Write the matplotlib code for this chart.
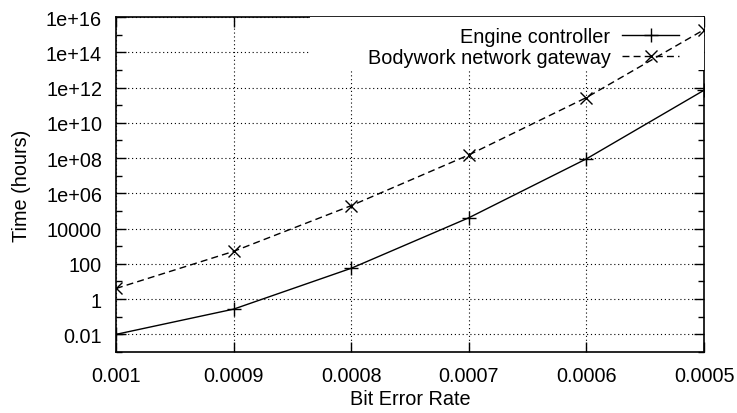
# Bit error rate vs time, gnuplot-like look
import matplotlib
matplotlib.use('Agg')
import matplotlib.pyplot as plt
from matplotlib.patches import Rectangle
from matplotlib.ticker import FixedLocator, FuncFormatter

plt.rcParams['font.family'] = ['Liberation Sans', 'DejaVu Sans']
plt.rcParams['font.size'] = 14.3

ber = [0.001, 0.0009, 0.0008, 0.0007, 0.0006, 0.0005]
engine_hours = [0.01, 0.27, 56, 4.1e4, 9e7, 7e11]
gateway_hours = [4, 510, 2e5, 1.5e8, 2.7e11, 1.9e15]

x_ticks = [0.001, 0.0009, 0.0008, 0.0007, 0.0006, 0.0005]
y_major = [10.0 ** e for e in range(-2, 17, 2)]
y_minor = [10.0 ** e for e in range(-3, 17, 2)]

W, H = 737, 414
L, R, T, B = 116, 704, 18, 353

fig = plt.figure(figsize=(W / 100, H / 100), dpi=100)
ax = fig.add_axes([L / W, 1 - B / H, (R - L) / W, (B - T) / H])

ax.plot(ber, engine_hours, color='black', lw=1.0, marker='+', ms=10, mew=1.0,
        label='Engine controller', zorder=6)
ax.plot(ber, gateway_hours, color='black', lw=1.0, ls=(0, (5, 3)), marker='x', ms=9, mew=1.0,
        label='Bodywork network gateway', zorder=6)

ax.set_yscale('log')
ax.set_xlim(0.001, 0.0005)
ax.set_ylim(1e-3, 1e16)

ax.xaxis.set_major_locator(FixedLocator(x_ticks))
ax.xaxis.set_major_formatter(FuncFormatter(lambda v, p: '%g' % v))
ax.yaxis.set_major_locator(FixedLocator(y_major))
ax.yaxis.set_minor_locator(FixedLocator(y_minor))
ax.yaxis.set_major_formatter(FuncFormatter(lambda v, p: '%g' % v))
ax.yaxis.set_minor_formatter(FuncFormatter(lambda v, p: ''))

ax.tick_params(which='both', direction='in', top=True, right=True, width=1.0)
ax.tick_params(axis='x', pad=10)
ax.tick_params(axis='y', pad=10)
ax.tick_params(which='major', length=7)
ax.tick_params(which='minor', length=4)
for s in ax.spines.values():
    s.set_linewidth(1.2)

ax.grid(True, which='major', color='black', ls=(0, (1, 2.5)), lw=0.8)

# white key area hides the grid behind the legend
box_x0 = (310 - L) / (R - L)
box_y0 = (B - 71) / (B - T)
ax.add_patch(Rectangle((box_x0, box_y0), 1 - box_x0, 1 - box_y0, transform=ax.transAxes,
                       facecolor='white', edgecolor='none', zorder=4))

ax.legend(loc='upper right', markerfirst=False, frameon=False,
          handlelength=2.85, handletextpad=0.6, borderpad=0.0, labelspacing=0.12,
          borderaxespad=0.0, bbox_to_anchor=(1 - 25 / (R - L), 1 - 10 / (B - T)))

ax.set_xlabel('Bit Error Rate', labelpad=3)
ax.set_ylabel('Time (hours)', labelpad=11)

fig.savefig('out.png', dpi=100)
